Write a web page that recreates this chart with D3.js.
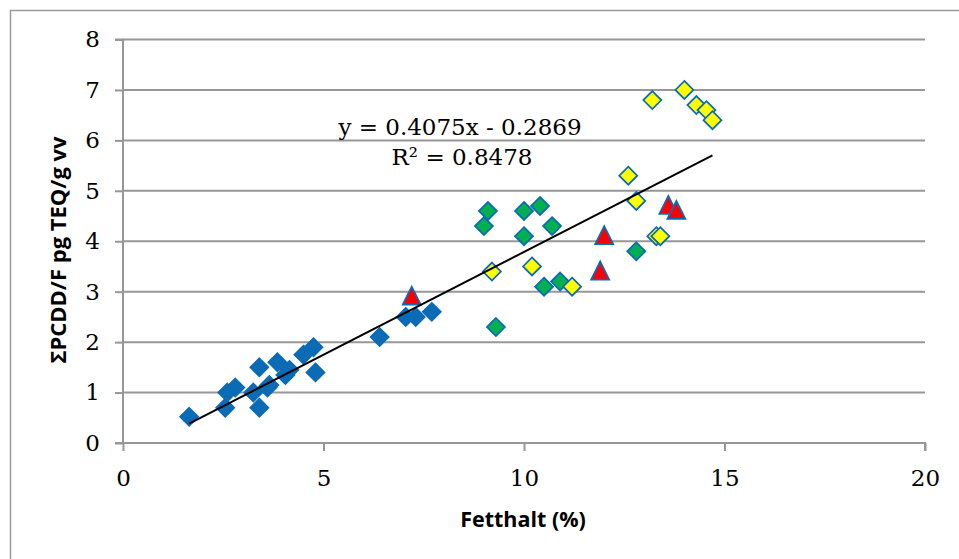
<!DOCTYPE html>
<html>
<head>
<meta charset="utf-8">
<script src="https://cdn.jsdelivr.net/npm/d3@7"></script>
<style>
html,body{margin:0;padding:0;background:#fff;}
svg{display:block;}
</style>
</head>
<body>
<svg id="chart" width="959" height="559"></svg>
<script>
// ---- data ----
const blueX = [1.65, 2.55, 2.6, 2.8, 3.25, 3.4, 3.4, 3.6, 3.65, 3.85, 4.05, 4.15, 4.5, 4.75, 4.8, 6.4, 7.05, 7.3, 7.7];
const blueY = [0.52, 0.7, 1.0, 1.1, 1.0, 1.5, 0.7, 1.1, 1.15, 1.6, 1.35, 1.45, 1.75, 1.9, 1.4, 2.1, 2.5, 2.5, 2.6];
const greenX = [9.0, 9.1, 9.3, 10.0, 10.0, 10.4, 10.7, 10.5, 10.9, 12.8];
const greenY = [4.3, 4.6, 2.3, 4.6, 4.1, 4.7, 4.3, 3.1, 3.2, 3.8];
const yellowX = [9.2, 10.2, 11.2, 12.6, 12.8, 13.3, 13.4, 13.2, 14.0, 14.3, 14.55, 14.7];
const yellowY = [3.4, 3.5, 3.1, 5.3, 4.8, 4.1, 4.1, 6.8, 7.0, 6.7, 6.6, 6.4];
const redX = [7.2, 11.9, 12.0, 13.6, 13.8];
const redY = [2.9, 3.4, 4.1, 4.7, 4.6];
const xTicks = [0, 5, 10, 15, 20];
const yTicks = [0, 1, 2, 3, 4, 5, 6, 7, 8];
const trendSlope = 0.4075, trendIntercept = -0.2869;
const trendRange = [1.65, 14.7];
const eqText = "y = 0.4075x - 0.2869";
const r2Text = "R² = 0.8478";
const xTitle = "Fetthalt (%)";
const yTitle = "ΣPCDD/F pg TEQ/g vv";

// ---- drawing ----
const svg = d3.select("#chart");
const x = d3.scaleLinear().domain([0, 20]).range([123, 925]);
const y = d3.scaleLinear().domain([0, 8]).range([443, 39.5]);
const gridColor = "#979797";
const edge = "#0b6bb5";

// outer border
svg.append("rect").attr("x", 10.5).attr("y", 10.5).attr("width", 980).attr("height", 600)
  .attr("fill", "none").attr("stroke", "#9a9a9a").attr("stroke-width", 1.5);

// gridlines
svg.append("g").selectAll("line").data(yTicks.filter(d => d > 0)).join("line")
  .attr("x1", x(0)).attr("x2", x(20)).attr("y1", d => y(d)).attr("y2", d => y(d))
  .attr("stroke", gridColor).attr("stroke-width", 2);

// y axis
const yAxis = d3.axisLeft(y).tickValues(yTicks).tickSize(8).tickPadding(15).tickFormat(d3.format("d"));
const gy = svg.append("g").attr("transform", `translate(${x(0)},0)`).call(yAxis);
gy.select(".domain").attr("stroke", gridColor).attr("stroke-width", 2).attr("d", `M-8,${y(0)}H0V${y(8)}H-8`);
gy.selectAll(".tick line").attr("stroke", gridColor).attr("stroke-width", 2);
gy.selectAll(".tick text").attr("font-family", "DejaVu Serif").attr("font-size", 23).attr("fill", "#000");

// x axis
const xAxis = d3.axisBottom(x).tickValues(xTicks).tickSize(8).tickPadding(19).tickFormat(d3.format("d"));
const gx = svg.append("g").attr("transform", `translate(0,${y(0)})`).call(xAxis);
gx.select(".domain").attr("stroke", gridColor).attr("stroke-width", 2).attr("d", `M${x(0)},0H${x(20)}V8`);
gx.selectAll(".tick line").attr("stroke", gridColor).attr("stroke-width", 2);
gx.selectAll(".tick text").attr("font-family", "DejaVu Serif").attr("font-size", 23).attr("fill", "#000");

// markers
function diamondPath(r) { return `M0,${-r}L${r},0L0,${r}L${-r},0Z`; }
function drawDiamonds(xs, ys, fill, stroke) {
  svg.append("g").selectAll("path").data(xs.map((v, i) => [v, ys[i]])).join("path")
    .attr("d", diamondPath(9))
    .attr("transform", d => `translate(${x(d[0])},${y(d[1])})`)
    .attr("fill", fill).attr("stroke", stroke).attr("stroke-width", 1.75);
}
drawDiamonds(blueX, blueY, edge, edge);
drawDiamonds(greenX, greenY, "#00b050", edge);
drawDiamonds(yellowX, yellowY, "#ffff00", edge);
svg.append("g").selectAll("path").data(redX.map((v, i) => [v, redY[i]])).join("path")
  .attr("d", "M0,-10L9,8L-9,8Z")
  .attr("transform", d => `translate(${x(d[0])},${y(d[1])})`)
  .attr("fill", "#ff0000").attr("stroke", edge).attr("stroke-width", 1.75);

// trendline
svg.append("line")
  .attr("x1", x(trendRange[0])).attr("y1", y(trendSlope * trendRange[0] + trendIntercept))
  .attr("x2", x(trendRange[1])).attr("y2", y(trendSlope * trendRange[1] + trendIntercept))
  .attr("stroke", "#000").attr("stroke-width", 2);

// equation
svg.append("text").attr("x", 460).attr("y", 135).attr("text-anchor", "middle")
  .attr("font-family", "DejaVu Serif").attr("font-size", 23).text(eqText);
svg.append("text").attr("x", 462).attr("y", 165).attr("text-anchor", "middle")
  .attr("font-family", "DejaVu Serif").attr("font-size", 23).text(r2Text);

// titles
svg.append("text").attr("x", 523).attr("y", 527).attr("text-anchor", "middle")
  .attr("font-family", "Open Sans").attr("font-weight", "bold").attr("font-size", 21.5).text(xTitle);
svg.append("text").attr("transform", "translate(66,250) rotate(-90)").attr("text-anchor", "middle")
  .attr("font-family", "Open Sans").attr("font-weight", "bold").attr("font-size", 22).text(yTitle);
</script>
</body>
</html>
